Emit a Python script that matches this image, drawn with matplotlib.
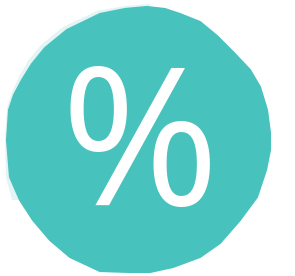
import numpy as np
import matplotlib.pyplot as plt
from matplotlib.patches import Polygon

# outline of the painted blob (pixel coords, y down), clockwise from the top
blob_x = [147, 165, 180, 200, 217, 233, 250, 260, 267, 270, 270, 266, 257, 240,
          220, 200, 173, 150, 130, 100, 70, 50, 33, 20, 10, 7, 9, 14, 22, 32, 45,
          67, 100, 125]
blob_y = [7, 9, 14, 22, 36, 52, 70, 87, 110, 133, 150, 170, 197, 220,
          243, 257, 267, 272, 272, 271, 257, 240, 220, 200, 177, 140, 110, 95,
          80, 64, 48, 30, 14, 9]
# pale rim along the upper left edge
rim_x = [12, 6, 5, 7, 12, 19, 28, 41, 63, 97, 125, 150]
rim_y = [200, 177, 140, 108, 92, 77, 61, 45, 27, 11, 6, 4]
label = "%"

fig = plt.figure(figsize=(2.95, 2.76), dpi=100)
ax = fig.add_axes([0, 0, 1, 1])
ax.set_xlim(0, 295)
ax.set_ylim(276, 0)
ax.axis("off")

ax.add_patch(Polygon(np.column_stack([rim_x + [147, 138, 140], rim_y + [60, 138, 200]]),
                     closed=True, color="#e2f4f3", lw=0))
ax.add_patch(Polygon(np.column_stack([blob_x, blob_y]), closed=True,
                     facecolor="#48c2bd", edgecolor="#48c2bd", lw=1.5,
                     joinstyle="round"))

ax.text(139.5, 155, label, fontsize=138, color="white", family="Open Sans",
        ha="center", va="center")

fig.savefig("out.png", dpi=100)
